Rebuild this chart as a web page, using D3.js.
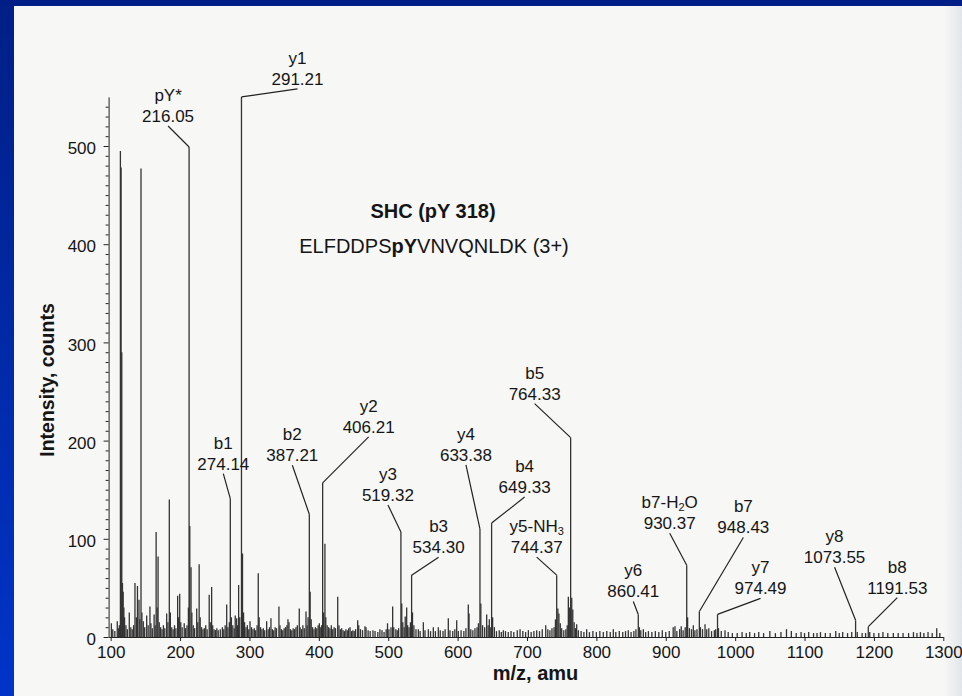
<!DOCTYPE html>
<html>
<head>
<meta charset="utf-8">
<script src="https://cdn.jsdelivr.net/npm/d3@7"></script>
<style>
  html, body { margin: 0; padding: 0; background: #f7f7f5; overflow: hidden; }
  svg { display: block; }
  text { font-family: "Liberation Sans", Arial, sans-serif; fill: #151515; }
</style>
</head>
<body>
<script>
// peaks: m/z (amu) and intensity (counts)
const peakMz = [
  101, 103, 106, 109.5, 111, 112.5, 114, 115, 116, 117, 118, 119, 120, 122, 124, 126.8, 129, 131, 133, 135,
  137, 138.6, 140.8, 142, 143.7, 145, 147, 149, 151.9, 154, 156.6, 158, 160, 162.6, 164, 165.5, 167, 168.3, 170, 172,
  174, 176, 178, 180.7, 182.5, 184.5, 186, 188, 190, 192, 194, 196.5, 198, 199.5, 201, 203, 206, 208, 210, 212,
  213, 214, 215.8, 217, 219, 221, 224, 225.5, 227.5, 229, 231, 233, 235, 237, 239, 242, 243.5, 245.5, 247, 249,
  251, 253, 255, 258, 261, 263, 265, 267.2, 269, 271, 272.4, 274, 276, 278, 279.5, 281.6, 283, 284.4, 286, 288.5,
  290, 291.5, 293, 295, 297, 299, 300.8, 303, 305, 307, 309, 311, 312.7, 314, 316, 318, 320, 322, 324.8, 327,
  329, 331, 333, 335, 337, 339, 342.5, 344, 346, 348, 350, 352, 354, 355.5, 357, 359, 361, 363, 365, 367,
  369, 371.8, 373, 375, 377, 379, 381.5, 383, 384.5, 386.3, 387.5, 389, 391, 393, 395, 397, 399, 400.7, 402, 404,
  405.5, 407, 408.8, 410, 412, 414, 416, 418, 420, 422, 424, 427.2, 429, 431, 433, 435, 437, 439, 441, 443,
  445, 447, 449, 451, 453, 456, 457.5, 460, 463, 466.5, 468, 471, 474, 478, 481, 485, 488, 491, 494, 497,
  499, 501, 504, 506.4, 508, 511, 513, 515, 518.3, 519.5, 521, 523, 524.5, 526.6, 528, 530, 532, 533.7, 535, 537,
  540, 543.4, 546, 550.6, 553, 557.8, 561, 565, 568, 572.2, 575, 579, 582, 586.6, 589, 593, 596, 598.7, 601, 605,
  609, 612, 615.4, 616.5, 619, 622, 625, 628, 630, 632.2, 633.5, 636, 639, 641.9, 644, 645.7, 647, 649, 650.5, 653,
  656, 660, 663, 665.9, 669, 673, 677, 681, 686, 690, 694, 698, 702, 706, 710, 714, 718, 722, 727, 730,
  733, 736, 739, 741, 742.8, 744.5, 746, 748, 750, 753, 756, 758, 759.6, 761, 762.9, 764.5, 766, 768, 770, 771.6,
  774, 778, 782, 786, 790, 795, 800, 805, 810, 815, 820, 824.4, 828, 833, 838, 842, 846, 850, 854, 857,
  860.4, 862, 864, 867.7, 871, 875, 880, 885, 890, 895, 900, 905, 910.7, 913.3, 916, 920, 922.3, 925, 928, 930.2,
  931.5, 934, 937, 939.7, 942, 945, 948.4, 950, 953, 956.6, 959, 962, 966, 970, 972, 974.6, 976, 980, 985.4, 990,
  996, 1003, 1010, 1016, 1021, 1028, 1034, 1041, 1050, 1058, 1066, 1074, 1081, 1088, 1095, 1100, 1106, 1113, 1118, 1123,
  1130, 1137, 1145, 1150, 1155, 1162, 1168, 1173.6, 1176, 1183, 1188, 1191.9, 1194, 1200, 1207, 1213, 1220, 1228, 1235, 1242,
  1250, 1257, 1262, 1267, 1272, 1278, 1284, 1290.5, 1295
];
const peakInt = [
  14, 8, 6, 16, 9, 12, 495, 478, 290, 55, 46, 30, 20, 12, 8, 25, 10, 8, 12, 55,
  20, 52, 38, 18, 477, 25, 16, 10, 22, 12, 31, 14, 9, 23, 12, 107, 30, 82, 15, 10,
  8, 12, 9, 24, 15, 140, 25, 10, 8, 12, 9, 42, 20, 44, 15, 10, 14, 9, 12, 30,
  499, 113, 71, 25, 12, 9, 29, 15, 74, 20, 10, 8, 9, 12, 8, 43, 15, 51, 12, 8,
  7, 9, 7, 8, 10, 8, 12, 33, 10, 15, 141, 20, 12, 9, 22, 19, 12, 53, 20, 550,
  85, 25, 15, 10, 12, 8, 16, 10, 8, 9, 7, 12, 65, 20, 10, 8, 9, 7, 16, 8,
  10, 19, 8, 7, 10, 9, 31, 12, 8, 7, 9, 10, 12, 18, 15, 8, 7, 9, 8, 10,
  12, 29, 10, 8, 12, 9, 26, 12, 20, 125, 46, 18, 10, 8, 10, 9, 12, 14, 10, 12,
  157, 25, 95, 20, 12, 10, 9, 12, 8, 10, 9, 41, 12, 8, 9, 7, 6, 8, 7, 9,
  10, 6, 7, 6, 8, 17, 12, 8, 7, 11, 10, 7, 6, 7, 6, 5, 8, 7, 5, 8,
  14, 8, 10, 31, 10, 8, 7, 9, 107, 34, 15, 10, 21, 30, 12, 10, 15, 63, 25, 12,
  8, 8, 6, 15, 7, 8, 6, 10, 6, 10, 7, 6, 8, 19, 7, 6, 8, 17, 6, 7,
  6, 9, 33, 24, 8, 7, 9, 10, 14, 110, 34, 12, 10, 23, 12, 18, 10, 116, 20, 10,
  6, 7, 5, 7, 6, 5, 6, 5, 7, 8, 6, 5, 7, 5, 6, 7, 6, 8, 12, 8,
  7, 9, 10, 18, 63, 29, 24, 14, 9, 7, 8, 12, 41, 30, 203, 40, 28, 15, 9, 13,
  7, 6, 5, 8, 5, 6, 5, 6, 5, 6, 5, 8, 5, 6, 5, 6, 7, 5, 6, 8,
  23, 10, 7, 8, 5, 6, 5, 6, 5, 7, 5, 6, 10, 11, 6, 8, 11, 7, 10, 73,
  20, 9, 8, 12, 7, 8, 26, 10, 8, 13, 8, 9, 6, 7, 8, 23, 9, 6, 7, 5,
  4, 4, 5, 4, 5, 4, 5, 4, 6, 4, 5, 8, 6, 4, 5, 4, 5, 4, 4, 5,
  4, 4, 6, 4, 5, 4, 5, 17, 5, 4, 4, 10.5, 5, 4, 4, 5, 4, 4, 4, 4,
  4, 5, 4, 5, 4, 5, 4, 9, 4
];

// labelled fragment ions: name, printed m/z, and the peak each one points at
const ionNames = ["pY*", "y1", "b1", "b2", "y2", "y3", "b3", "y4", "b4", "y5-NH_3",
  "b5", "y6", "b7-H_2O", "b7", "y7", "y8", "b8"];
const ionLabels = ["216.05", "291.21", "274.14", "387.21", "406.21", "519.32", "534.30", "633.38", "649.33", "744.37",
  "764.33", "860.41", "930.37", "948.43", "974.49", "1073.55", "1191.53"];
const ionPeakMz = [213, 288.5, 272.4, 386.3, 405.5, 518.3, 533.7, 632.2, 649, 742.8,
  762.9, 860.4, 930.2, 948.4, 974.6, 1173.6, 1191.9];

const xTicks = [100, 200, 300, 400, 500, 600, 700, 800, 900, 1000, 1100, 1200, 1300];
const yTicks = [0, 100, 200, 300, 400, 500];

const title = "SHC (pY 318)";
const seqParts = ["ELFDDPS", "pY", "VNVQNLDK (3+)"];
const xTitle = "m/z, amu";
const yTitle = "Intensity, counts";

// where each label sits relative to its peak top (px), leader line runs between
const labelOffsets = [[-21, -21], [56, -8], [-7, -25], [-17, -49], [46, -46], [-13, -27], [27, -18],
  [-14, -64], [33, -26], [-20, -18], [-36, -34], [-5, -13], [-17, -32], [44, -74], [43, -16],
  [-21, -53], [29, -29]];

const W = 962, H = 696;

const svg = d3.select("body").append("svg")
    .attr("width", W)
    .attr("height", H);

// slide background and scanned page
const defs = svg.append("defs");
const bg = defs.append("linearGradient").attr("id", "bg")
    .attr("x1", 0).attr("y1", 0).attr("x2", 0).attr("y2", 1);
bg.append("stop").attr("offset", "0%").attr("stop-color", "#001f86");
bg.append("stop").attr("offset", "100%").attr("stop-color", "#0034c8");
const edge = defs.append("linearGradient").attr("id", "edge")
    .attr("x1", 0).attr("y1", 0).attr("x2", 1).attr("y2", 0);
edge.append("stop").attr("offset", "0%").attr("stop-color", "#f7f7f5");
edge.append("stop").attr("offset", "100%").attr("stop-color", "#e2e5ea");

svg.append("rect").attr("x", 0).attr("y", 0).attr("width", 14).attr("height", H).attr("fill", "url(#bg)");
svg.append("rect").attr("x", 0).attr("y", 0).attr("width", W).attr("height", 6).attr("fill", "#001f86");
svg.append("rect").attr("x", 14).attr("y", 6).attr("width", W - 14).attr("height", H - 6).attr("fill", "#f7f7f5");
// greyish page edge on the right
svg.append("rect").attr("x", 944).attr("y", 6).attr("width", W - 944).attr("height", H - 6).attr("fill", "url(#edge)");

// scales
const x = d3.scaleLinear().domain([97, 1300]).range([108.6, 943.3]);
const y = d3.scaleLinear().domain([0, 550]).range([637, 96.9]);

// peaks
const peaks = peakMz.map((m, i) => ({ mz: m, int: peakInt[i] }));
svg.append("g")
    .selectAll("line")
    .data(peaks)
    .join("line")
    .attr("x1", d => x(d.mz))
    .attr("x2", d => x(d.mz))
    .attr("y1", y(0))
    .attr("y2", d => y(d.int))
    .attr("stroke", "#333")
    .attr("stroke-width", 1.3);

// X axis
const gx = svg.append("g")
    .attr("transform", `translate(0,${y(0)})`)
    .call(d3.axisBottom(x).tickValues(xTicks).tickFormat(d3.format("d"))
        .tickSize(4).tickSizeOuter(0).tickPadding(5));

// Y axis, minor ticks every 10 counts
const minor = d3.range(10, 550, 10).filter(v => v % 100 !== 0);
svg.append("g")
    .attr("transform", `translate(${x(97)},0)`)
    .call(d3.axisLeft(y).tickValues(minor).tickSize(3).tickFormat("").tickSizeOuter(0))
    .call(g => g.select(".domain").remove());
const gy = svg.append("g")
    .attr("transform", `translate(${x(97)},0)`)
    .call(d3.axisLeft(y).tickValues(yTicks).tickSize(5).tickSizeOuter(0).tickPadding(7.6));
gy.selectAll("text").attr("dy", "0.45em");

[gx, gy].forEach(g => {
    g.attr("font-family", null).attr("font-size", 17);
    g.selectAll("path, line").attr("stroke", "#222");
    g.selectAll("text").attr("fill", "#151515");
});
svg.selectAll(".tick line").attr("stroke", "#222");

// axis titles
svg.append("text")
    .attr("x", 535.5)
    .attr("y", 680)
    .attr("text-anchor", "middle")
    .attr("font-weight", "bold")
    .attr("font-size", 20)
    .text(xTitle);
svg.append("text")
    .attr("transform", "translate(54,380) rotate(-90)")
    .attr("text-anchor", "middle")
    .attr("font-weight", "bold")
    .attr("font-size", 19.5)
    .text(yTitle);

// peptide title
svg.append("text")
    .attr("x", 433)
    .attr("y", 218)
    .attr("text-anchor", "middle")
    .attr("font-weight", "bold")
    .attr("font-size", 20)
    .text(title);
const seq = svg.append("text")
    .attr("x", 434)
    .attr("y", 253)
    .attr("text-anchor", "middle")
    .attr("font-size", 20);
seqParts.forEach((s, i) => {
    seq.append("tspan").attr("font-weight", i === 1 ? "bold" : null).text(s);
});

// ion annotations with leader lines
const ann = svg.append("g");
ionNames.forEach((name, i) => {
    const m = ionPeakMz[i];
    const px = x(m), py = y(peakInt[peakMz.indexOf(m)]);
    const lx = px + labelOffsets[i][0], ly = py + labelOffsets[i][1];

    ann.append("line")
        .attr("x1", px).attr("y1", py)
        .attr("x2", lx).attr("y2", ly)
        .attr("stroke", "#222")
        .attr("stroke-width", 1.2);

    ann.append("text")
        .attr("x", lx)
        .attr("y", ly - 4)
        .attr("text-anchor", "middle")
        .attr("font-size", 17)
        .text(ionLabels[i]);

    // "_" marks a subscript digit
    const t = ann.append("text")
        .attr("x", lx)
        .attr("y", ly - 25)
        .attr("text-anchor", "middle")
        .attr("font-size", 17);
    const parts = name.split(/_(\d)/);
    parts.forEach((p, k) => {
        if (p === "") return;
        if (k % 2 === 1) {
            t.append("tspan").attr("font-size", 11).attr("dy", 3).text(p);
        } else {
            t.append("tspan").attr("dy", k > 0 ? -3 : null).text(p);
        }
    });
});
</script>
</body>
</html>
